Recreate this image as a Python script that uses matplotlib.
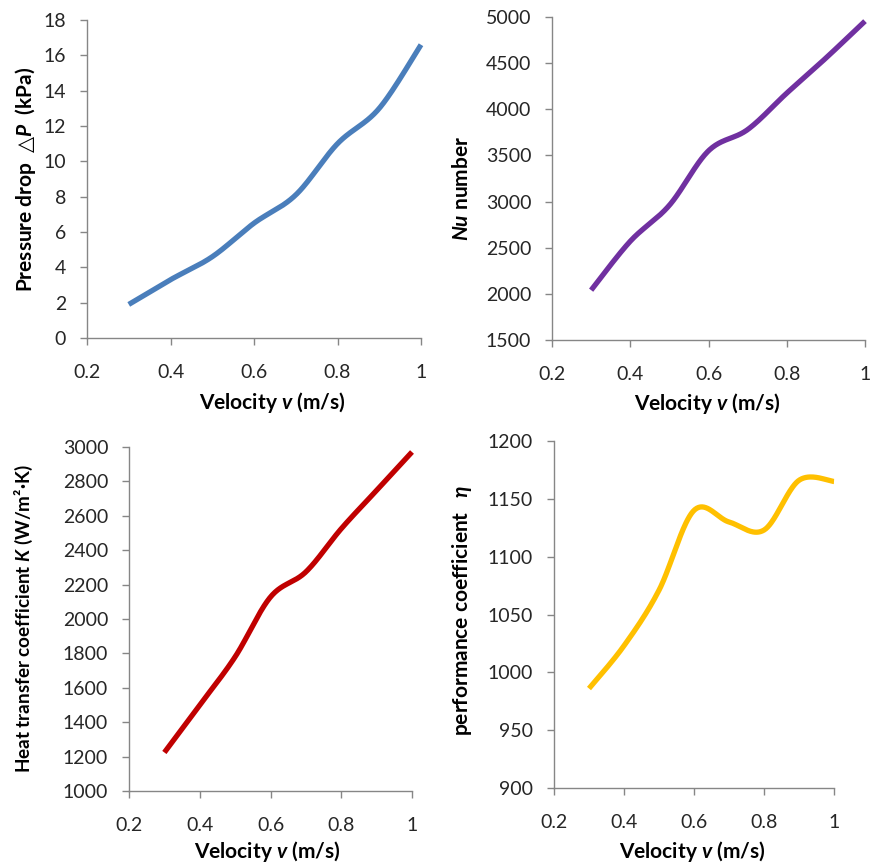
import matplotlib
matplotlib.use("Agg")
import matplotlib.pyplot as plt
import numpy as np

plt.rcParams["font.family"] = ["Lato", "DejaVu Sans"]
plt.rcParams["mathtext.fontset"] = "custom"
plt.rcParams["mathtext.rm"] = "Lato:bold"
plt.rcParams["mathtext.it"] = "Lato:bold:italic"
plt.rcParams["mathtext.bf"] = "Lato:bold"
plt.rcParams["mathtext.sf"] = "DejaVu Sans:bold"
plt.rcParams["mathtext.fallback"] = "stixsans"

# ── Data ──────────────────────────────────────────────────────────────────────
velocity = [0.3, 0.4, 0.5, 0.6, 0.7, 0.8, 0.9, 1.0]
pressure_drop = [1.9, 3.3, 4.6, 6.5, 8.1, 11.0, 13.0, 16.6]
nu_number = [2040, 2570, 2960, 3550, 3780, 4175, 4555, 4955]
heat_k = [1224, 1500, 1780, 2128, 2274, 2525, 2748, 2971]
perf_eta = [986, 1023, 1071, 1140, 1130, 1123, 1166, 1165]

x_ticks = [0.2, 0.4, 0.6, 0.8, 1.0]
x_ticklabels = ["0.2", "0.4", "0.6", "0.8", "1"]

W, H = 878, 863
GRID = "#868686"
TXT = "#262626"


def px_rect(l, r, t, b):
    return [l / W, 1 - b / H, (r - l) / W, (b - t) / H]


def smooth(ax, xs, ys, n=40):
    """Excel-style smoothed line: Catmull-Rom Bezier computed in screen space."""
    x0, x1 = ax.get_xlim(); y0, y1 = ax.get_ylim()
    bb = ax.get_position()
    sx = bb.width * W / (x1 - x0); sy = bb.height * H / (y1 - y0)
    P = np.column_stack([(np.asarray(xs) - x0) * sx, (np.asarray(ys) - y0) * sy])
    Pe = np.vstack([P[0], P, P[-1]])
    t = np.linspace(0, 1, n)[:, None]
    out = []
    for i in range(1, len(Pe) - 2):
        p0, p3 = Pe[i], Pe[i + 1]
        c1 = p0 + (Pe[i + 1] - Pe[i - 1]) / 6
        c2 = p3 - (Pe[i + 2] - Pe[i]) / 6
        seg = ((1 - t) ** 3) * p0 + 3 * ((1 - t) ** 2) * t * c1 \
            + 3 * (1 - t) * t ** 2 * c2 + t ** 3 * p3
        out.append(seg if i == 1 else seg[1:])
    S = np.vstack(out)
    return S[:, 0] / sx + x0, S[:, 1] / sy + y0


def panel(fig, rect, ys, color, ylim, ystep, ylabel, ylab_xy, xlab_xy, yfs=15):
    ax = fig.add_axes(rect)
    ax.set_xlim(0.2, 1.0)
    ax.set_ylim(*ylim)
    ax.set_xticks(x_ticks)
    ax.set_xticklabels(x_ticklabels)
    yt = np.arange(ylim[0], ylim[1] + ystep / 2, ystep)
    ax.set_yticks(yt)
    ax.set_yticklabels([f"{v:g}" for v in yt])
    for s in ("top", "right"):
        ax.spines[s].set_visible(False)
    for s in ("left", "bottom"):
        ax.spines[s].set_color(GRID)
        ax.spines[s].set_linewidth(1.0)
    ax.tick_params(axis="both", colors=GRID, labelcolor=TXT, labelsize=14,
                   length=5, width=1.0)
    ax.tick_params(axis="x", pad=14)
    ax.tick_params(axis="y", pad=10)
    sx_, sy_ = smooth(ax, velocity, ys)
    ax.plot(sx_, sy_, color=color, lw=3.8, solid_capstyle="butt", clip_on=False)
    ax.set_xlabel(r"Velocity $v$ (m/s)", fontsize=15, fontweight="bold",
                  va="center", ha="center")
    ax.set_ylabel(ylabel, fontsize=yfs, fontweight="bold", va="center", ha="center")
    ax.xaxis.set_label_coords(xlab_xy[0] / W, 1 - xlab_xy[1] / H, transform=fig.transFigure)
    ax.yaxis.set_label_coords(ylab_xy[0] / W, 1 - ylab_xy[1] / H, transform=fig.transFigure)
    return ax


fig = plt.figure(figsize=(W / 100, H / 100), dpi=100)

panel(fig, px_rect(87, 421, 20, 338), pressure_drop, "#4A7EBB", (0, 18), 2,
      r"Pressure drop  $\mathsf{△}P$  (kPa)", (26, 179), (272, 402))
panel(fig, px_rect(552, 865, 17, 340), nu_number, "#7030A0", (1500, 5000), 500,
      "$Nu$ number", (462, 188), (707, 403))
panel(fig, px_rect(129, 412, 447, 791), heat_k, "#C00000", (1000, 3000), 200,
      "Heat transfer coefficient $K$ (W/m²·K)", (24, 619), (267, 851), yfs=13.6)
panel(fig, px_rect(554, 834, 441, 788), perf_eta, "#FFC000", (900, 1200), 50,
      r"performance coefficient   $\eta$", (462, 610), (692, 851))

fig.savefig("out.png", dpi=100)
